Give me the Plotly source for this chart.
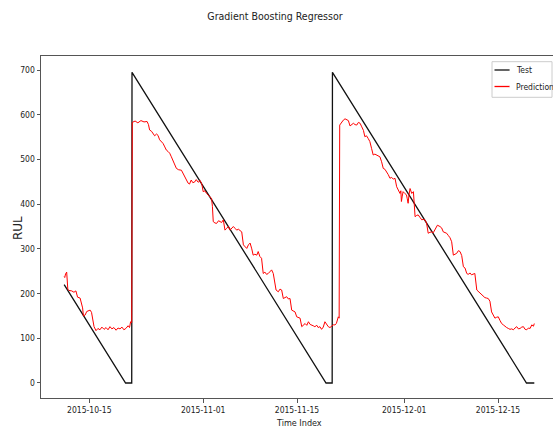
import plotly.graph_objects as go

# ---------------- data ----------------
test_time = ["2015-10-11 06:00", "2015-10-20 10:00", "2015-10-21 08:00", "2015-10-21 09:00",
             "2015-11-19 08:00", "2015-11-20 06:00", "2015-11-20 07:00", "2015-12-19 06:00",
             "2015-12-20 10:00"]
test_rul = [220, 0, 0, 695, 0, 0, 695, 0, 0]

pred_time = [
    "2015-10-11 06:00", "2015-10-11 08:00", "2015-10-11 11:00", "2015-10-11 15:00", "2015-10-11 19:00",
    "2015-10-11 23:00", "2015-10-12 09:00", "2015-10-12 17:00", "2015-10-13 00:00", "2015-10-13 06:00",
    "2015-10-13 15:00", "2015-10-13 21:00", "2015-10-14 00:00", "2015-10-14 03:00", "2015-10-14 09:00",
    "2015-10-14 15:00", "2015-10-14 21:00", "2015-10-15 03:00", "2015-10-15 08:00", "2015-10-15 11:00",
    "2015-10-15 17:00", "2015-10-16 00:00", "2015-10-16 07:00", "2015-10-16 14:00", "2015-10-16 21:00",
    "2015-10-17 05:00", "2015-10-17 12:00", "2015-10-17 19:00", "2015-10-18 02:00", "2015-10-18 09:00",
    "2015-10-18 16:00", "2015-10-19 00:00", "2015-10-19 07:00", "2015-10-19 14:00", "2015-10-19 21:00",
    "2015-10-20 04:00", "2015-10-20 11:00", "2015-10-20 19:00", "2015-10-21 00:00", "2015-10-21 04:00",
    "2015-10-21 08:00", "2015-10-21 10:00",
    "2015-10-21 20:00", "2015-10-22 06:00", "2015-10-22 17:00", "2015-10-23 04:00", "2015-10-23 15:00",
    "2015-10-23 20:00", "2015-10-24 00:00", "2015-10-24 07:00", "2015-10-24 12:00", "2015-10-24 18:00",
    "2015-10-25 01:00", "2015-10-25 06:00", "2015-10-25 12:00", "2015-10-25 19:00", "2015-10-26 00:00",
    "2015-10-26 05:00", "2015-10-26 12:00", "2015-10-26 18:00", "2015-10-27 00:00", "2015-10-27 06:00",
    "2015-10-27 12:00", "2015-10-27 17:00", "2015-10-28 00:00", "2015-10-28 08:00", "2015-10-28 18:00",
    "2015-10-29 00:00", "2015-10-29 06:00", "2015-10-29 12:00", "2015-10-29 18:00", "2015-10-29 23:00",
    "2015-10-30 05:00", "2015-10-30 11:00", "2015-10-30 18:00", "2015-10-30 23:00", "2015-10-31 06:00",
    "2015-10-31 13:00", "2015-10-31 19:00", "2015-11-01 00:00", "2015-11-01 06:00", "2015-11-01 12:00",
    "2015-11-01 18:00", "2015-11-02 00:00", "2015-11-02 06:00", "2015-11-02 09:00", "2015-11-02 12:00",
    "2015-11-02 18:00", "2015-11-03 00:00", "2015-11-03 07:00", "2015-11-03 12:00", "2015-11-03 18:00",
    "2015-11-04 00:00", "2015-11-04 06:00", "2015-11-04 12:00", "2015-11-04 18:00", "2015-11-05 00:00",
    "2015-11-05 06:00", "2015-11-05 12:00", "2015-11-05 18:00", "2015-11-06 00:00", "2015-11-06 06:00",
    "2015-11-06 12:00", "2015-11-06 18:00", "2015-11-07 00:00", "2015-11-07 06:00", "2015-11-07 12:00",
    "2015-11-07 18:00", "2015-11-08 00:00", "2015-11-08 06:00", "2015-11-08 11:00", "2015-11-08 17:00",
    "2015-11-09 00:00", "2015-11-09 05:00", "2015-11-09 11:00", "2015-11-09 17:00", "2015-11-09 23:00",
    "2015-11-10 05:00", "2015-11-10 11:00", "2015-11-10 17:00", "2015-11-10 23:00", "2015-11-11 05:00",
    "2015-11-11 11:00", "2015-11-11 16:00", "2015-11-11 21:00", "2015-11-12 05:00", "2015-11-12 11:00",
    "2015-11-12 17:00", "2015-11-12 23:00", "2015-11-13 05:00", "2015-11-13 11:00", "2015-11-13 17:00",
    "2015-11-13 23:00", "2015-11-14 05:00", "2015-11-14 11:00", "2015-11-14 17:00", "2015-11-14 23:00",
    "2015-11-15 05:00", "2015-11-15 11:00", "2015-11-15 17:00", "2015-11-15 23:00", "2015-11-16 05:00",
    "2015-11-16 11:00", "2015-11-16 17:00", "2015-11-16 23:00", "2015-11-17 05:00", "2015-11-17 10:00",
    "2015-11-17 16:00", "2015-11-17 23:00", "2015-11-18 04:00", "2015-11-18 10:00", "2015-11-18 16:00",
    "2015-11-18 22:00", "2015-11-19 04:00", "2015-11-19 10:00", "2015-11-19 16:00", "2015-11-19 22:00",
    "2015-11-20 04:00", "2015-11-20 10:00", "2015-11-20 16:00", "2015-11-20 21:00", "2015-11-21 04:00",
    "2015-11-21 07:00", "2015-11-21 09:00",
    "2015-11-21 15:00", "2015-11-21 22:00", "2015-11-22 04:00", "2015-11-22 10:00", "2015-11-22 16:00",
    "2015-11-22 22:00", "2015-11-23 04:00", "2015-11-23 10:00", "2015-11-23 16:00", "2015-11-23 22:00",
    "2015-11-24 04:00", "2015-11-24 10:00", "2015-11-24 16:00", "2015-11-24 22:00", "2015-11-25 03:00",
    "2015-11-25 09:00", "2015-11-25 15:00", "2015-11-25 21:00", "2015-11-26 03:00", "2015-11-26 09:00",
    "2015-11-26 15:00", "2015-11-26 21:00", "2015-11-27 03:00", "2015-11-27 09:00", "2015-11-27 15:00",
    "2015-11-27 21:00", "2015-11-28 03:00", "2015-11-28 09:00", "2015-11-28 15:00", "2015-11-28 21:00",
    "2015-11-29 03:00", "2015-11-29 09:00", "2015-11-29 15:00", "2015-11-29 21:00", "2015-11-30 03:00",
    "2015-11-30 09:00", "2015-11-30 12:00", "2015-11-30 14:00", "2015-11-30 17:00", "2015-11-30 20:00",
    "2015-12-01 02:00", "2015-12-01 08:00", "2015-12-01 11:00", "2015-12-01 14:00", "2015-12-01 17:00",
    "2015-12-01 21:00", "2015-12-02 03:00", "2015-12-02 09:00", "2015-12-02 12:00", "2015-12-02 15:00",
    "2015-12-02 21:00", "2015-12-03 02:00", "2015-12-03 09:00", "2015-12-03 15:00", "2015-12-03 20:00",
    "2015-12-04 02:00", "2015-12-04 08:00", "2015-12-04 14:00", "2015-12-04 20:00", "2015-12-05 02:00",
    "2015-12-05 08:00", "2015-12-05 14:00", "2015-12-05 23:00", "2015-12-06 08:00", "2015-12-06 14:00",
    "2015-12-06 20:00", "2015-12-07 02:00", "2015-12-07 08:00", "2015-12-07 14:00", "2015-12-07 20:00",
    "2015-12-08 02:00", "2015-12-08 08:00", "2015-12-08 14:00", "2015-12-08 20:00", "2015-12-09 02:00",
    "2015-12-09 08:00", "2015-12-09 14:00", "2015-12-09 20:00", "2015-12-10 02:00", "2015-12-10 08:00",
    "2015-12-10 13:00", "2015-12-10 20:00", "2015-12-11 01:00", "2015-12-11 07:00", "2015-12-11 13:00",
    "2015-12-11 20:00", "2015-12-12 01:00", "2015-12-12 07:00", "2015-12-12 13:00", "2015-12-12 19:00",
    "2015-12-13 01:00", "2015-12-13 07:00", "2015-12-13 13:00", "2015-12-13 19:00", "2015-12-14 01:00",
    "2015-12-14 07:00", "2015-12-14 13:00", "2015-12-14 19:00", "2015-12-15 01:00", "2015-12-15 07:00",
    "2015-12-15 13:00", "2015-12-15 19:00", "2015-12-16 01:00", "2015-12-16 07:00", "2015-12-16 13:00",
    "2015-12-16 19:00", "2015-12-17 01:00", "2015-12-17 07:00", "2015-12-17 13:00", "2015-12-17 19:00",
    "2015-12-18 01:00", "2015-12-18 07:00", "2015-12-18 13:00", "2015-12-18 19:00", "2015-12-19 01:00",
    "2015-12-19 07:00", "2015-12-19 13:00", "2015-12-19 19:00", "2015-12-20 01:00", "2015-12-20 07:00",
    "2015-12-20 10:00",
]
pred_rul = [
    238, 236, 244, 248, 210,
    207, 206, 203, 206, 192,
    190, 174, 168, 150, 152,
    160, 162, 163, 158, 148,
    126, 117, 122, 119, 125,
    120, 124, 119, 126, 121,
    124, 118, 123, 121, 125,
    119, 122, 128, 124, 137,
    135, 583,
    586, 582, 587, 584, 585,
    578, 566, 563, 559, 553,
    557, 554, 544, 540, 536,
    530, 521, 518, 514, 506,
    499, 490, 480, 477, 476,
    468, 462, 455, 447, 445,
    454, 448, 450, 455, 449,
    453, 445, 428, 430, 424,
    421, 417, 413, 395, 361,
    358, 357, 363, 361, 359,
    365, 342, 346, 350, 342,
    345, 350, 346, 342, 344,
    340, 338, 309, 305, 301,
    309, 313, 300, 286, 288,
    286, 294, 283, 279, 245,
    248, 243, 245, 250, 253,
    245, 230, 208, 204, 210,
    208, 189, 191, 193, 188,
    189, 163, 161, 159, 148,
    146, 145, 126, 130, 133,
    129, 137, 131, 130, 128,
    126, 129, 124, 126, 120,
    125, 137, 131, 126, 124,
    128, 130, 130, 133, 148,
    145, 577,
    583, 588, 591, 589, 587,
    575, 579, 581, 578, 577,
    583, 581, 573, 565, 551,
    553, 547, 540, 525, 510,
    512, 510, 508, 506, 495,
    480, 478, 473, 466, 458,
    460, 456, 458, 439, 432,
    424, 430, 406, 418, 428,
    424, 421, 412, 402, 420,
    435, 424, 428, 400, 372,
    375, 376, 370, 365, 366,
    365, 358, 335, 337, 338,
    336, 342, 353, 350, 347,
    338, 336, 335, 330, 325,
    316, 286, 288, 290, 296,
    294, 285, 260, 257, 245,
    243, 246, 242, 244, 245,
    208, 205, 201, 198, 193,
    191, 190, 189, 183, 159,
    152, 145, 147, 148, 140,
    133, 130, 126, 124, 122,
    120, 121, 119, 123, 126,
    121, 122, 125, 126, 120,
    119, 123, 122, 130, 127,
    133,
]

x_ticks = ["2015-10-15", "2015-11-01", "2015-11-15", "2015-12-01", "2015-12-15"]
y_ticks = [0, 100, 200, 300, 400, 500, 600, 700]

# ---------------- layout geometry (pixels) ----------------
W, H = 553, 427
L, R, T, B = 41, 553, 56, 398   # plot area edges in px
PW, PH = R - L, B - T


def px(x):
    return (x - L) / PW


def py(y):
    return (B - y) / PH


NARROW = "DejaVu Sans Condensed, DejaVu Sans, sans-serif"
AX = "#555555"
TXT = "#222222"

fig = go.Figure()
fig.add_trace(go.Scatter(x=test_time, y=test_rul, mode="lines", name="Test",
                         line=dict(color="#111111", width=1.3)))
fig.add_trace(go.Scatter(x=pred_time, y=pred_rul, mode="lines", name="Prediction",
                         line=dict(color="#ff0000", width=1)))

fig.update_layout(
    width=W, height=H,
    margin=dict(l=L, r=W - R, t=T, b=H - B),
    paper_bgcolor="white", plot_bgcolor="white",
    showlegend=False,
    title=dict(text="Gradient Boosting Regressor", x=275 / W, xref="container", xanchor="center",
               y=1 - 16.5 / H, yref="container", yanchor="middle",
               font=dict(family=NARROW, size=10.5, color=TXT)),
    font=dict(family=NARROW, size=9, color=TXT),
)
fig.update_xaxes(
    type="date", range=["2015-10-07 19:00", "2015-12-23 05:00"],
    tickmode="array", tickvals=x_ticks, ticktext=x_ticks,
    showgrid=False, zeroline=False, showline=True, linecolor=AX, linewidth=1, mirror=True,
    ticks="outside", ticklen=3.5, tickcolor=AX, tickwidth=0.8,
    tickfont=dict(family=NARROW, size=8.5, color=TXT),
)
fig.update_yaxes(
    range=[-33.6, 731.5], tickmode="array", tickvals=y_ticks,
    showgrid=False, zeroline=False, showline=True, linecolor=AX, linewidth=1, mirror=False,
    ticks="outside", ticklen=3.5, tickcolor=AX, tickwidth=0.8,
    tickfont=dict(family=NARROW, size=8.5, color=TXT),
)

# axis titles
fig.add_annotation(text="Time Index", xref="paper", yref="paper", x=px(298.7), y=py(423),
                   xanchor="center", yanchor="middle", showarrow=False,
                   font=dict(family=NARROW, size=9, color=TXT))
fig.add_annotation(text="RUL", xref="paper", yref="paper", x=px(18), y=py(228),
                   xanchor="center", yanchor="middle", showarrow=False, textangle=-90,
                   font=dict(family="DejaVu Sans", size=12, color=TXT))

# legend box
fig.add_shape(type="rect", xref="paper", yref="paper", x0=px(492), x1=px(552), y0=py(97.3), y1=py(61.7),
              line=dict(color="#cccccc", width=1), fillcolor="rgba(255,255,255,0.85)", layer="above")
fig.add_shape(type="line", xref="paper", yref="paper", x0=px(494.5), x1=px(509.5), y0=py(70), y1=py(70),
              line=dict(color="#111111", width=1.3), layer="above")
fig.add_shape(type="line", xref="paper", yref="paper", x0=px(494.5), x1=px(509.5), y0=py(86.5), y1=py(86.5),
              line=dict(color="#ff0000", width=1.3), layer="above")
fig.add_annotation(text="Test", xref="paper", yref="paper", x=px(514), y=py(70),
                   xanchor="left", yanchor="middle", showarrow=False,
                   font=dict(family=NARROW, size=8.5, color=TXT))
fig.add_annotation(text="Prediction", xref="paper", yref="paper", x=px(514), y=py(86.5),
                   xanchor="left", yanchor="middle", showarrow=False,
                   font=dict(family=NARROW, size=8.5, color=TXT))

fig.write_html("out.html", config={"displayModeBar": False},
               post_script="document.body.style.margin='0';")
